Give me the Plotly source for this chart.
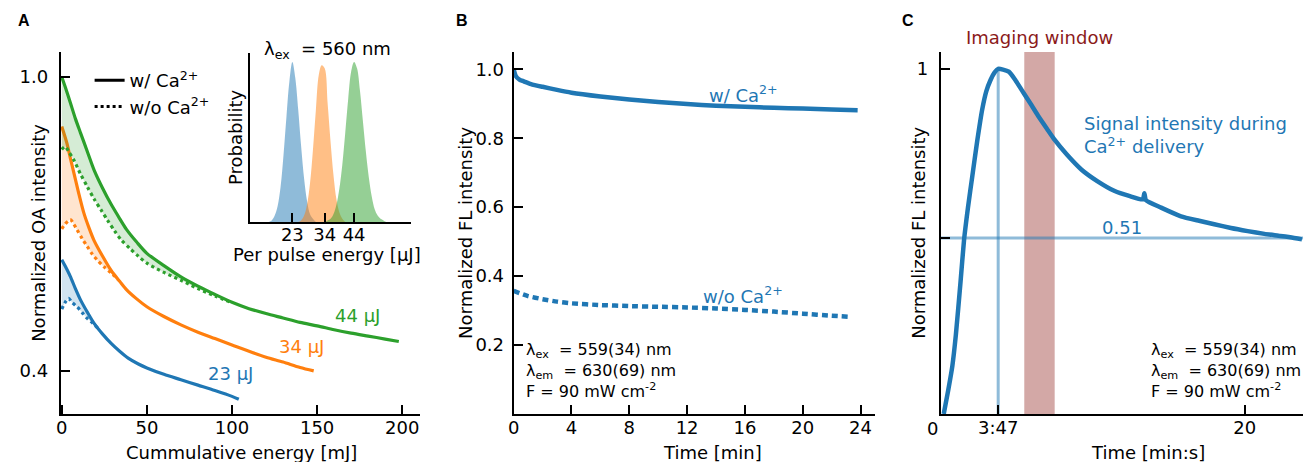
import numpy as np
import plotly.graph_objects as go

W, H = 1306, 462
BLUE = '#1f77b4'
ORANGE = '#ff7f0e'
GREEN = '#2ca02c'
FONT = 'DejaVu Sans'

# ---------------- Panel A data: normalized OA intensity vs cumulative energy ----------------
a_green_solid_x = [0, 2, 5, 8, 11, 15, 19, 24, 29, 34, 38, 44, 50, 60, 70, 80, 90, 100, 110, 120, 130, 140, 150, 160, 170, 180, 190, 198]
a_green_solid_y = [1.0, 0.980, 0.948, 0.915, 0.886, 0.848, 0.810, 0.773, 0.740, 0.711, 0.689, 0.663, 0.640, 0.615, 0.592, 0.573, 0.556, 0.540, 0.527, 0.517, 0.508, 0.499, 0.492, 0.484, 0.477, 0.471, 0.465, 0.460]
a_green_dot_x = [0, 2, 4, 7, 11, 15, 19, 23, 27, 31, 35, 40, 45, 50, 60, 70, 80, 90, 100]
a_green_dot_y = [0.852, 0.858, 0.848, 0.831, 0.802, 0.776, 0.751, 0.729, 0.707, 0.686, 0.667, 0.650, 0.634, 0.620, 0.601, 0.585, 0.568, 0.553, 0.539]

a_orange_solid_x = [0, 3, 5, 7, 10, 13, 16, 19, 24, 29, 34, 38, 44, 50, 60, 70, 80, 90, 100, 110, 120, 130, 140, 148]
a_orange_solid_y = [0.899, 0.865, 0.835, 0.806, 0.762, 0.722, 0.692, 0.666, 0.634, 0.605, 0.583, 0.566, 0.547, 0.531, 0.511, 0.494, 0.479, 0.466, 0.453, 0.440, 0.428, 0.418, 0.407, 0.400]
a_orange_dot_x = [0, 2, 5, 7, 9, 12, 15, 18, 21, 25, 29, 33]
a_orange_dot_y = [0.690, 0.700, 0.709, 0.700, 0.688, 0.670, 0.654, 0.638, 0.626, 0.612, 0.600, 0.587]

a_blue_solid_x = [0, 2, 5, 8, 11, 15, 19, 24, 29, 34, 39, 45, 50, 60, 70, 80, 90, 100, 104]
a_blue_solid_y = [0.627, 0.614, 0.593, 0.568, 0.545, 0.520, 0.497, 0.475, 0.456, 0.440, 0.426, 0.414, 0.406, 0.393, 0.382, 0.371, 0.360, 0.348, 0.342]
a_blue_dot_x = [0, 2, 4, 6, 9, 12, 15, 18, 21]
a_blue_dot_y = [0.526, 0.540, 0.548, 0.540, 0.531, 0.519, 0.507, 0.498, 0.488]

a_labels = ['23 µJ', '34 µJ', '44 µJ']
a_label_x = [99, 141, 174]
a_label_y = [0.395, 0.449, 0.514]
a_xticks = [0, 50, 100, 150, 200]
a_yticks = [0.4, 1.0]

# Inset: per-pulse energy distributions
inset_ticks = [23, 34, 44]
blue_pe_x = list(range(15, 32))
blue_pe_p = [0.00, 0.01, 0.04, 0.10, 0.22, 0.42, 0.66, 0.88, 1.00, 0.90, 0.70, 0.47, 0.27, 0.13, 0.05, 0.02, 0.00]
orange_pe_x = list(range(25, 42))
orange_pe_p = [0.00, 0.01, 0.04, 0.11, 0.24, 0.45, 0.70, 0.92, 0.98, 0.96, 0.74, 0.50, 0.29, 0.14, 0.06, 0.02, 0.00]
green_pe_x = list(range(34, 57))
green_pe_p = [0.00, 0.01, 0.02, 0.05, 0.11, 0.21, 0.36, 0.56, 0.77, 0.94, 1.00, 0.96, 0.82, 0.63, 0.44, 0.28, 0.16, 0.08, 0.04, 0.02, 0.01, 0.00, 0.00]

# ---------------- Panel B data: FL intensity vs time ----------------
b_with_t = [0, 0.15, 0.4, 0.7, 1.2, 2, 3, 4, 6, 8, 10, 12, 14, 16, 18, 20, 22, 23.8]
b_with_y = [1.0, 0.980, 0.970, 0.965, 0.957, 0.949, 0.940, 0.932, 0.921, 0.912, 0.905, 0.899, 0.894, 0.891, 0.888, 0.886, 0.883, 0.881]
b_without_t = [0, 1, 2, 3, 4, 6, 8, 10, 12, 14, 16, 18, 20, 22, 23.2]
b_without_y = [0.357, 0.342, 0.333, 0.326, 0.321, 0.316, 0.313, 0.311, 0.309, 0.306, 0.302, 0.297, 0.291, 0.285, 0.282]
b_xticks = [0, 4, 8, 12, 16, 20, 24]
b_yticks = [0.2, 0.4, 0.6, 0.8, 1.0]

# ---------------- Panel C data: signal during Ca2+ delivery ----------------
c_t = [0.2, 0.5, 0.77, 1.0, 1.3, 1.54, 1.8, 2.08, 2.4, 2.73, 3.0, 3.28, 3.55, 3.78, 4.1, 4.48, 4.91, 5.2, 5.53, 6.0, 6.44, 7.0, 7.49, 8.3, 9.27, 10.3, 11.45, 12.4, 13.3, 13.4, 13.5, 14.5, 15.81, 17.0, 18.0, 19.1, 20.2, 21.3, 22.35, 23.0, 23.77]
c_y = [0.0, 0.07, 0.14, 0.23, 0.38, 0.506, 0.60, 0.689, 0.79, 0.882, 0.935, 0.968, 0.99, 1.0, 0.998, 0.992, 0.968, 0.948, 0.925, 0.893, 0.862, 0.826, 0.795, 0.752, 0.708, 0.675, 0.646, 0.632, 0.622, 0.640, 0.620, 0.598, 0.573, 0.560, 0.550, 0.539, 0.530, 0.522, 0.516, 0.512, 0.506]
c_peak_t = 3 + 47 / 60
c_half_level = 0.51
c_window = [5.5, 7.5]
c_xticks = [c_peak_t, 20]
c_xticklabels = ['3:47', '20']


def fx(p):
    return p / W


def fy(p):
    return 1 - p / H


def rgba(hexc, a):
    h = hexc.lstrip('#')
    return 'rgba(%d,%d,%d,%s)' % (int(h[0:2], 16), int(h[2:4], 16), int(h[4:6], 16), a)


fig = go.Figure()

# ---- Panel A curves ----
for col, sx, sy, dx, dy in [
    (BLUE, a_blue_solid_x, a_blue_solid_y, a_blue_dot_x, a_blue_dot_y),
    (ORANGE, a_orange_solid_x, a_orange_solid_y, a_orange_dot_x, a_orange_dot_y),
    (GREEN, a_green_solid_x, a_green_solid_y, a_green_dot_x, a_green_dot_y),
]:
    top = list(np.interp(dx, sx, sy))
    fig.add_trace(go.Scatter(x=list(dx) + list(dx)[::-1], y=list(dy) + top[::-1], fill='toself',
                             fillcolor=rgba(col, 0.2), line=dict(width=0, shape='spline', smoothing=0.8),
                             mode='lines', showlegend=False, hoverinfo='skip', xaxis='x', yaxis='y'))
    fig.add_trace(go.Scatter(x=dx, y=dy, mode='lines',
                             line=dict(color=col, width=3.2, dash='dot', shape='spline', smoothing=0.8),
                             showlegend=False, xaxis='x', yaxis='y'))
    fig.add_trace(go.Scatter(x=sx, y=sy, mode='lines',
                             line=dict(color=col, width=3.2, shape='spline', smoothing=0.8),
                             showlegend=False, xaxis='x', yaxis='y'))

# legend entries
fig.add_trace(go.Scatter(x=[None], y=[None], mode='lines', line=dict(color='black', width=3),
                         name='w/ Ca<sup>2+</sup>', xaxis='x', yaxis='y'))
fig.add_trace(go.Scatter(x=[None], y=[None], mode='lines', line=dict(color='black', width=3, dash='dot'),
                         name='w/o Ca<sup>2+</sup>', xaxis='x', yaxis='y'))

# ---- Inset distributions ----
for col, xs, ps in [(BLUE, blue_pe_x, blue_pe_p), (ORANGE, orange_pe_x, orange_pe_p), (GREEN, green_pe_x, green_pe_p)]:
    fig.add_trace(go.Scatter(x=xs, y=ps, mode='lines', fill='tozeroy', fillcolor=rgba(col, 0.5),
                             line=dict(width=0, shape='spline'), showlegend=False,
                             xaxis='x2', yaxis='y2'))

# ---- Panel B ----
fig.add_trace(go.Scatter(x=b_without_t, y=b_without_y, mode='lines',
                         line=dict(color=BLUE, width=4.5, dash='6px,4px', shape='spline', smoothing=0.6),
                         showlegend=False, xaxis='x3', yaxis='y3'))
fig.add_trace(go.Scatter(x=b_with_t, y=b_with_y, mode='lines',
                         line=dict(color=BLUE, width=4.5, shape='spline', smoothing=0.6),
                         showlegend=False, xaxis='x3', yaxis='y3'))

# ---- Panel C ----
fig.add_trace(go.Scatter(x=c_t, y=c_y, mode='lines',
                         line=dict(color=BLUE, width=4.5, shape='spline', smoothing=0.5),
                         showlegend=False, xaxis='x4', yaxis='y4'))

fig.add_shape(type='rect', xref='x4', yref='y4 domain', x0=c_window[0], x1=c_window[1], y0=0, y1=1,
              fillcolor='#d3a8a6', line=dict(width=0), layer='below')
fig.add_shape(type='line', xref='x4 domain', yref='y4', x0=0, x1=1, y0=c_half_level, y1=c_half_level,
              line=dict(color=rgba(BLUE, 0.5), width=3), layer='below')
fig.add_shape(type='line', xref='x4', yref='y4', x0=c_peak_t, x1=c_peak_t, y0=0, y1=max(c_y),
              line=dict(color=rgba(BLUE, 0.5), width=3), layer='below')

axis_common = dict(showline=True, linecolor='black', linewidth=2, ticks='inside', ticklen=9,
                   tickwidth=2, tickcolor='black', showgrid=False, zeroline=False,
                   tickfont=dict(size=18, color='black', family=FONT))

fig.update_layout(
    width=W, height=H, margin=dict(l=0, r=0, t=0, b=0),
    paper_bgcolor='white', plot_bgcolor='rgba(0,0,0,0)',
    font=dict(family=FONT, size=18, color='black'),
    showlegend=True,
    legend=dict(x=fx(84), y=fy(62), xanchor='left', yanchor='top', bgcolor='rgba(0,0,0,0)',
                font=dict(size=18), itemwidth=30, tracegroupgap=0),
    xaxis=dict(domain=[fx(55), fx(416)], range=[-0.6, 210.5], tickvals=a_xticks, anchor='y',
               ticklabelstandoff=-4, **axis_common),
    yaxis=dict(domain=[fy(414), fy(52)], range=[0.312, 1.051], tickvals=a_yticks,
               ticktext=['0.4', '1.0'], anchor='x', ticklabelstandoff=7, **axis_common),
    xaxis2=dict(domain=[fx(245), fx(407)], range=[8.55, 63.4], tickvals=inset_ticks, anchor='y2',
                ticklabelstandoff=-5, **axis_common),
    yaxis2=dict(domain=[fy(222), fy(53)], range=[0, 1.056], anchor='x2', showline=True, linecolor='black',
                linewidth=2, ticks='', showticklabels=False, showgrid=False, zeroline=False),
    xaxis3=dict(domain=[fx(510), fx(873)], range=[0, 25.0], tickvals=b_xticks, anchor='y3',
                ticklabelstandoff=-4, **axis_common),
    yaxis3=dict(domain=[fy(414), fy(52)], range=[0, 1.05], tickvals=b_yticks,
                ticktext=['0.2', '0.4', '0.6', '0.8', '1.0'], anchor='x3', ticklabelstandoff=4, **axis_common),
    xaxis4=dict(domain=[fx(939), fx(1303)], range=[0, 23.84], tickvals=c_xticks, ticktext=c_xticklabels,
                anchor='y4', ticklabelstandoff=-4, **axis_common),
    yaxis4=dict(domain=[fy(414), fy(52)], range=[0, 1.049], tickvals=[c_half_level, 1.0], ticktext=['', '1'],
                anchor='x4', ticklabelstandoff=7, **axis_common),
)

ann = []


def add_text(text, x, y, xref='paper', yref='paper', size=18, color='black', angle=0,
             xanchor='center', yanchor='middle', align='center', family=FONT, **kw):
    ann.append(dict(text=text, x=x, y=y, xref=xref, yref=yref, showarrow=False,
                    font=dict(size=size, color=color, family=family),
                    textangle=angle, xanchor=xanchor, yanchor=yanchor, align=align, **kw))


# panel letters
add_text('<b>A</b>', fx(18), fy(21), size=16, family='Liberation Sans')
add_text('<b>B</b>', fx(458), fy(21), size=16, family='Liberation Sans')
add_text('<b>C</b>', fx(906), fy(21), size=16, family='Liberation Sans')

# axis titles
add_text('Normalized OA intensity', fx(33), fy(233), angle=-90)
add_text('Cummulative energy [mJ]', fx(237), fy(452))
add_text('Probability', fx(230), fy(137), angle=-90)
add_text('Per pulse energy [µJ]', fx(322), fy(254))
add_text('λ<sub>ex</sub>\u00a0 = 560 nm', fx(323), fy(50))
add_text('Normalized FL intensity', fx(462), fy(233), angle=-90)
add_text('Time [min]', fx(710), fy(452))
add_text('Normalized FL intensity', fx(917), fy(233), angle=-90)
add_text('Time [min:s]', fx(1147), fy(452))
add_text('0', 0, fy(428), xref='x4', xshift=-8)

# curve labels
for t, x, y, c in zip(a_labels, a_label_x, a_label_y, [BLUE, ORANGE, GREEN]):
    add_text(t, x, y, xref='x', yref='y', color=c)
add_text('w/ Ca<sup>2+</sup>', 15.9, 0.927, xref='x3', yref='y3', color=BLUE)
add_text('w/o Ca<sup>2+</sup>', 15.9, 0.345, xref='x3', yref='y3', color=BLUE)
add_text('Signal intensity during<br>Ca<sup>2+</sup> delivery', 9.3, 0.809, xref='x4', yref='y4',
         color=BLUE, xanchor='left', align='left')
add_text('0.51', 11.9, 0.541, xref='x4', yref='y4', color=BLUE)
add_text('Imaging window', sum(c_window) / 2, fy(37), xref='x4', yref='paper', color='#8b1a1a')

cond = 'λ<sub>ex</sub>\u00a0 = 559(34) nm<br>λ<sub>em</sub>\u00a0 = 630(69) nm<br>F = 90 mW cm<sup>-2</sup>'
add_text(cond, fx(520), fy(370), size=16, xanchor='left', align='left')
add_text(cond, fx(1148), fy(370), size=16, xanchor='left', align='left')

fig.update_layout(annotations=ann)
fig.write_html('out.html', config={'displayModeBar': False},
               post_script="document.body.style.margin='0px';document.body.style.overflow='hidden';")
